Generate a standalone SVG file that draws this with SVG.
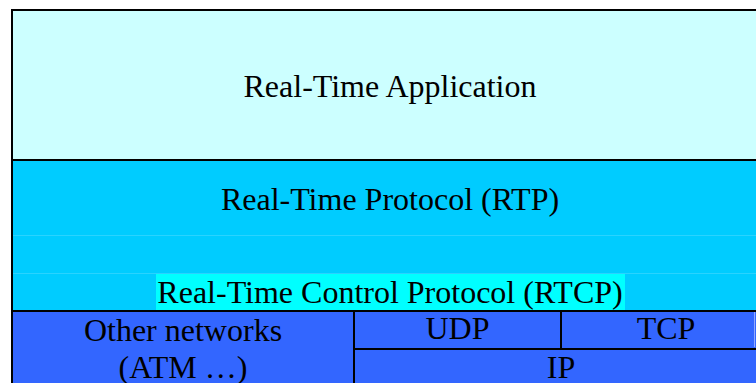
<svg xmlns="http://www.w3.org/2000/svg" width="756" height="383" viewBox="0 0 756 383">
  <style>
    .layer { stroke: #000; stroke-width: 2; }
    .label { font-family: "Liberation Serif", "Times New Roman", serif; font-size: 32px; fill: #000; text-anchor: middle; }
    .seam { stroke: #2ad3ff; stroke-width: 1; }
  </style>
  <rect width="756" height="383" fill="#fff"/>

  <!-- Application layer -->
  <g id="application">
    <rect class="layer" x="12" y="10" width="756" height="150" fill="#ccffff"/>
    <text class="label" x="390" y="97">Real-Time Application</text>
  </g>

  <!-- RTP / RTCP layer -->
  <g id="rtp">
    <rect class="layer" x="12" y="160" width="756" height="151" fill="#00ccff"/>
    <line class="seam" x1="13" y1="235.5" x2="756" y2="235.5"/>
    <line class="seam" x1="13" y1="273.5" x2="756" y2="273.5"/>
    <text class="label" x="390" y="210">Real-Time Protocol (RTP)</text>
  </g>
  <g id="rtcp">
    <rect x="156" y="274" width="469" height="36" fill="#00ffff"/>
    <text class="label" x="390" y="303">Real-Time Control Protocol (RTCP)</text>
  </g>

  <!-- Transport / network layer -->
  <g id="other-networks">
    <rect class="layer" x="12" y="311" width="342" height="80" fill="#3366ff"/>
    <text class="label" x="183" y="341">Other networks</text>
    <text class="label" x="183" y="378">(ATM …)</text>
  </g>
  <g id="udp">
    <rect class="layer" x="354" y="311" width="207" height="38" fill="#3366ff"/>
    <text class="label" x="457.5" y="339">UDP</text>
  </g>
  <g id="tcp">
    <rect class="layer" x="561" y="311" width="207" height="38" fill="#3366ff"/>
    <line x1="754.5" y1="312" x2="754.5" y2="347" stroke="#8fa8ff" stroke-width="1"/>
    <text class="label" x="666" y="339">TCP</text>
  </g>
  <g id="ip">
    <rect class="layer" x="354" y="349" width="414" height="45" fill="#3366ff"/>
    <text class="label" x="561" y="378">IP</text>
  </g>

  <g id="connectors"/>
</svg>
